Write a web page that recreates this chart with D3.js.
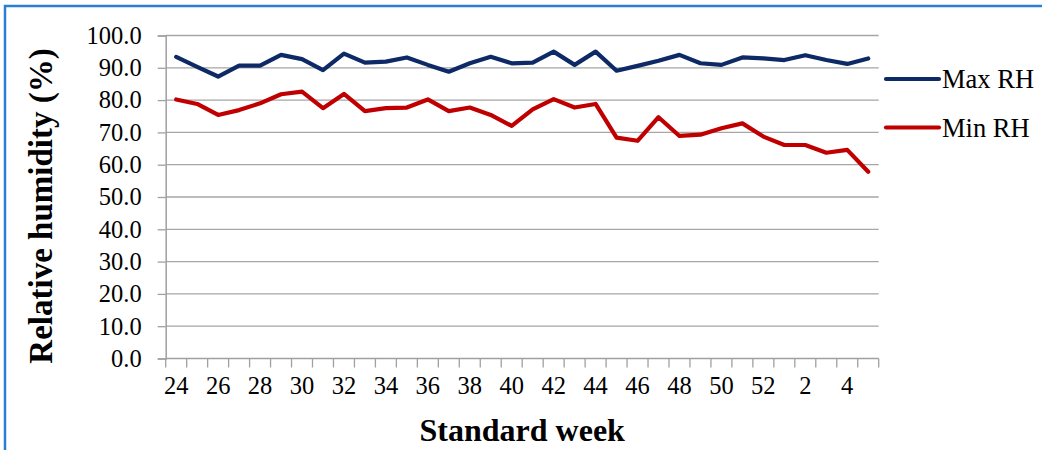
<!DOCTYPE html>
<html>
<head>
<meta charset="utf-8">
<script src="https://cdn.jsdelivr.net/npm/d3@7"></script>
</head>
<body style="margin:0;padding:0;background:#fff">
<svg id="chart" width="1042" height="450" style="display:block"></svg>
<script>
const weeks = ["24","25","26","27","28","29","30","31","32","33","34","35","36","37","38","39","40","41","42","43","44","45","46","47","48","49","50","51","52","1","2","3","4","5"];
const maxRH = [93.4,90.3,87.3,90.7,90.7,94.0,92.7,89.3,94.4,91.6,91.9,93.2,90.9,88.8,91.4,93.4,91.4,91.6,95.0,90.9,95.0,89.1,90.6,92.2,94.0,91.4,90.9,93.2,92.9,92.4,93.9,92.4,91.2,92.9];
const minRH = [80.2,78.8,75.4,76.9,79.0,81.8,82.6,77.5,81.9,76.6,77.5,77.7,80.2,76.6,77.7,75.4,72.0,77.1,80.3,77.7,78.8,68.4,67.4,74.7,68.9,69.3,71.3,72.8,68.7,66.1,66.1,63.7,64.6,57.8];
const shownLabels = ["24","26","28","30","32","34","36","38","40","42","44","46","48","50","52","2","4"];
const yTicks = [0,10,20,30,40,50,60,70,80,90,100];
const seriesNames = ["Max RH","Min RH"];
const seriesColors = ["#0d2a66","#c00000"];

const FONT = '"Liberation Serif"';
const svg = d3.select("#chart");
const pL = 165.7, pR = 878.7, pT = 35.5, pB = 358.5;

// outer border (cropped frame)
svg.append("path")
  .attr("d", "M5,452 L5,6 L1045,6")
  .attr("fill", "none").attr("stroke", "#2a7fd4").attr("stroke-width", 2.5);

const x = d3.scaleBand().domain(weeks).range([pL, pR]).padding(0);
const y = d3.scaleLinear().domain([0, 100]).range([pB, pT]);

// gridlines
svg.append("g").selectAll("line").data(yTicks.filter(d => d > 0)).join("line")
  .attr("x1", pL).attr("x2", pR)
  .attr("y1", d => y(d)).attr("y2", d => y(d))
  .attr("stroke", "#a6a6a6").attr("stroke-width", 1.3);

// y axis
const yAxis = svg.append("g").attr("transform", `translate(${pL},0)`)
  .call(d3.axisLeft(y).tickValues(yTicks).tickFormat(d3.format(".1f")).tickSize(8).tickPadding(16));
yAxis.attr("font-family", null);
yAxis.select(".domain").attr("stroke", "#a0a0a0").attr("stroke-width", 1.5);
yAxis.selectAll(".tick line").attr("stroke", "#a0a0a0").attr("stroke-width", 1.3);
yAxis.selectAll(".tick text").attr("font-size", 24.5).attr("fill", "#000");

// x axis labels
const xAxis = svg.append("g").attr("transform", `translate(0,${pB})`)
  .call(d3.axisBottom(x).tickValues(shownLabels).tickSize(0).tickPadding(24));
xAxis.attr("font-family", null);
xAxis.select(".domain").remove();
xAxis.selectAll(".tick text").attr("font-size", 24.5).attr("fill", "#000").attr("dy", "0.71em").attr("y", 18);

// x axis line and boundary ticks
svg.append("line").attr("x1", pL).attr("x2", pR).attr("y1", pB).attr("y2", pB)
  .attr("stroke", "#a0a0a0").attr("stroke-width", 1.5);
const bounds = weeks.map(w => x(w)).concat([x(weeks[weeks.length - 1]) + x.bandwidth()]);
svg.append("g").selectAll("line").data(bounds).join("line")
  .attr("x1", d => d).attr("x2", d => d).attr("y1", pB).attr("y2", pB + 9)
  .attr("stroke", "#a0a0a0").attr("stroke-width", 1.3);

// lines
const line = d3.line().x((d, i) => x(weeks[i]) + x.bandwidth() / 2).y(d => y(d));
[maxRH, minRH].forEach((s, k) => {
  svg.append("path").datum(s).attr("d", line)
    .attr("fill", "none").attr("stroke", seriesColors[k]).attr("stroke-width", 4.2)
    .attr("stroke-linejoin", "round").attr("stroke-linecap", "round");
});

// legend
const legendY = [79, 127.5];
seriesNames.forEach((n, k) => {
  svg.append("line").attr("x1", 886).attr("x2", 939).attr("y1", legendY[k]).attr("y2", legendY[k])
    .attr("stroke", seriesColors[k]).attr("stroke-width", 4.2).attr("stroke-linecap", "round");
  svg.append("text").attr("x", 942).attr("y", legendY[k] + 9).attr("font-size", 26.5).attr("fill", "#000").text(n);
});

// axis titles
svg.append("text").attr("x", (pL + pR) / 2).attr("y", 441)
  .attr("text-anchor", "middle").attr("font-weight", "bold").attr("font-size", 32).attr("fill", "#000").text("Standard week");
svg.append("text").attr("transform", "translate(52,206) rotate(-90)")
  .attr("text-anchor", "middle").attr("font-weight", "bold").attr("font-size", 33).attr("fill", "#000").text("Relative humidity (%)");

svg.selectAll("text").style("font-family", FONT);
</script>
</body>
</html>
